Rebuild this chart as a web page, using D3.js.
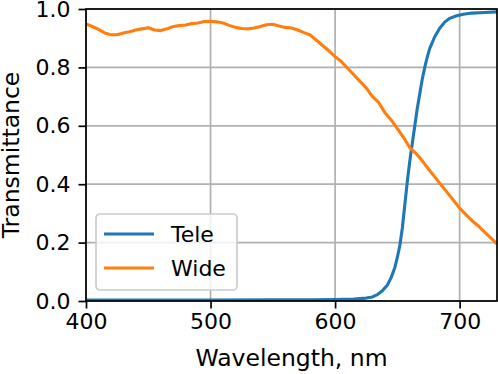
<!DOCTYPE html>
<html>
<head>
<meta charset="utf-8">
<script src="https://cdn.jsdelivr.net/npm/d3@7"></script>
<style>
  body { margin: 0; background: #fff; }
  text { font-family: "DejaVu Sans", sans-serif; }
</style>
</head>
<body>
<div id="main"></div>
<script>
// wavelength (nm) and transmittance
const teleWl = [400, 450, 500, 550, 580, 600, 615, 625, 630, 634, 638, 642, 645, 648, 650, 652, 654, 656, 658, 660, 662, 664, 666, 668, 670, 672, 674, 676, 678, 680, 684, 688, 692, 697, 703, 710, 720, 730];
const teleT  = [0.003, 0.003, 0.003, 0.004, 0.004, 0.005, 0.007, 0.01, 0.014, 0.022, 0.035, 0.055, 0.08, 0.115, 0.15, 0.19, 0.25, 0.33, 0.41, 0.48, 0.54, 0.6, 0.66, 0.71, 0.76, 0.8, 0.835, 0.865, 0.885, 0.905, 0.934, 0.955, 0.968, 0.976, 0.982, 0.986, 0.988, 0.99];

const wideWl = [400, 405, 410, 415, 420, 425, 430, 435, 440, 445, 450, 455, 460, 465, 470, 475, 480, 485, 490, 495, 500, 505, 510, 515, 520, 525, 530, 535, 540, 545, 550, 555, 560, 565, 570, 575, 580, 585, 590, 595, 600, 605, 610, 615, 620, 625, 630, 635, 640, 645, 650, 655, 660, 665, 670, 675, 680, 685, 690, 695, 700, 705, 710, 715, 720, 725, 730];
const wideT  = [0.949, 0.94, 0.93, 0.918, 0.912, 0.912, 0.918, 0.922, 0.928, 0.932, 0.936, 0.928, 0.926, 0.932, 0.94, 0.943, 0.945, 0.95, 0.952, 0.957, 0.958, 0.956, 0.952, 0.944, 0.937, 0.933, 0.932, 0.935, 0.94, 0.946, 0.948, 0.942, 0.937, 0.935, 0.928, 0.919, 0.911, 0.893, 0.875, 0.857, 0.837, 0.82, 0.797, 0.775, 0.752, 0.73, 0.70, 0.68, 0.645, 0.62, 0.59, 0.56, 0.525, 0.505, 0.48, 0.452, 0.425, 0.398, 0.372, 0.345, 0.318, 0.296, 0.275, 0.257, 0.236, 0.216, 0.196];

const xTicks = [400, 500, 600, 700];
const yTicks = [0, 0.2, 0.4, 0.6, 0.8, 1.0];
const seriesNames = ["Tele", "Wide"];
const seriesColors = ["#1f77b4", "#ff7f0e"];

const W = 498, H = 374;
const m = {left: 86, right: 1, top: 9, bottom: 73};
const TICK_FONT = 22, LABEL_FONT = 23.5;

const svg = d3.select("#main").append("svg")
    .attr("width", W).attr("height", H);

const x = d3.scaleLinear().domain([400, 730]).range([m.left, W - m.right]);
const y = d3.scaleLinear().domain([0, 1]).range([H - m.bottom, m.top]);

// grid
const grid = svg.append("g");
grid.selectAll("line.gx").data(xTicks).enter().append("line")
    .attr("x1", d => x(d)).attr("x2", d => x(d))
    .attr("y1", y(0)).attr("y2", y(1))
    .attr("stroke", "#b0b0b0").attr("stroke-width", 1.7);
grid.selectAll("line.gy").data(yTicks).enter().append("line")
    .attr("x1", x(400)).attr("x2", x(730))
    .attr("y1", d => y(d)).attr("y2", d => y(d))
    .attr("stroke", "#b0b0b0").attr("stroke-width", 1.7);

// curves
svg.append("clipPath").attr("id", "clip").append("rect")
    .attr("x", x(400)).attr("y", y(1)).attr("width", x(730) - x(400)).attr("height", y(0) - y(1));

const line = d3.line().x(d => x(d[0])).y(d => y(d[1]));
const series = [d3.zip(teleWl, teleT), d3.zip(wideWl, wideT)];
svg.append("g").attr("clip-path", "url(#clip)")
  .selectAll("path").data(series).enter().append("path")
    .attr("d", line)
    .attr("fill", "none")
    .attr("stroke", (d, i) => seriesColors[i])
    .attr("stroke-width", 3.1)
    .attr("stroke-linejoin", "round");

// axes
const xAxis = d3.axisBottom(x).tickValues(xTicks).tickFormat(d3.format("d"))
    .tickSizeInner(7.5).tickSizeOuter(0).tickPadding(5);
const yAxis = d3.axisLeft(y).tickValues(yTicks).tickFormat(d3.format(".1f"))
    .tickSizeInner(7.5).tickSizeOuter(0).tickPadding(8);

const gx = svg.append("g").attr("transform", `translate(0,${y(0)})`).call(xAxis);
const gy = svg.append("g").attr("transform", `translate(${x(400)},0)`).call(yAxis);
[gx, gy].forEach(g => {
    g.select(".domain").remove();
    g.selectAll(".tick line").attr("stroke", "#000").attr("stroke-width", 1.7);
    g.selectAll(".tick text").attr("font-size", TICK_FONT).attr("fill", "#000")
     .attr("font-family", "DejaVu Sans");
});

// frame
svg.append("rect")
    .attr("x", x(400)).attr("y", y(1))
    .attr("width", x(730) - x(400)).attr("height", y(0) - y(1))
    .attr("fill", "none").attr("stroke", "#000").attr("stroke-width", 1.7);

// axis labels
svg.append("text")
    .attr("x", (x(400) + x(730)) / 2).attr("y", 366)
    .attr("text-anchor", "middle").attr("font-size", LABEL_FONT)
    .text("Wavelength, nm");
svg.append("text")
    .attr("transform", `translate(19,${(y(0) + y(1)) / 2}) rotate(-90)`)
    .attr("text-anchor", "middle").attr("font-size", LABEL_FONT)
    .text("Transmittance");

// legend
const lg = svg.append("g").attr("transform", "translate(96,214)");
lg.append("rect")
    .attr("width", 141).attr("height", 76).attr("rx", 4)
    .attr("fill", "#fff").attr("fill-opacity", 0.8)
    .attr("stroke", "#cccccc").attr("stroke-width", 1.7);
const items = lg.selectAll("g.item").data(seriesNames).enter().append("g")
    .attr("transform", (d, i) => `translate(0,${20 + i * 34})`);
items.append("line")
    .attr("x1", 8).attr("x2", 58)
    .attr("stroke", (d, i) => seriesColors[i]).attr("stroke-width", 3.1);
items.append("text")
    .attr("x", 75).attr("y", 8)
    .attr("font-size", TICK_FONT).text(d => d);
</script>
</body>
</html>
